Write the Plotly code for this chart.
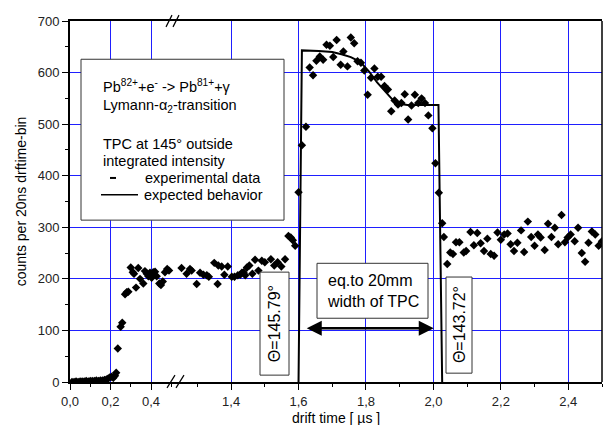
import plotly.graph_objects as go

# measured counts, left part of the broken time axis
t_left = [0.01, 0.02, 0.03, 0.04, 0.05, 0.06, 0.07, 0.08, 0.09, 0.10, 0.11, 0.12, 0.13,
          0.14, 0.15, 0.16, 0.17, 0.18, 0.189, 0.197, 0.206, 0.214, 0.222, 0.228, 0.236,
          0.25, 0.258, 0.272, 0.28, 0.288, 0.30, 0.31, 0.316, 0.326, 0.337, 0.346, 0.362,
          0.37, 0.379, 0.387, 0.395, 0.403, 0.411, 0.42, 0.428, 0.441, 0.449, 0.458,
          0.469, 0.48, 0.489]
n_left = [0, 0, 1, 0, 1, 1, 1, 2, 1, 2, 2, 2, 3,
          2, 3, 3, 4, 5, 7, 9, 10, 8, 12, 18, 65,
          107, 115, 170, 174, 175, 222, 213, 210, 183, 221, 200, 191,
          215, 210, 205, 212, 202, 213, 214, 205, 191, 188, 195,
          213, 219, 216]

# measured counts, right part
t_right = [1.253, 1.268, 1.278, 1.283, 1.298, 1.308, 1.318, 1.328, 1.334, 1.35, 1.36,
           1.362, 1.372, 1.38, 1.39, 1.402, 1.41, 1.42, 1.427, 1.432, 1.437, 1.442,
           1.447, 1.454, 1.463, 1.471, 1.481, 1.491, 1.50, 1.518, 1.528, 1.538, 1.549,
           1.56, 1.57, 1.577, 1.583, 1.59,
           1.60, 1.61, 1.622, 1.633, 1.643, 1.653, 1.663, 1.673, 1.683, 1.693, 1.703,
           1.713, 1.725, 1.733, 1.745, 1.755, 1.765, 1.775, 1.785, 1.795, 1.805, 1.815,
           1.825, 1.835, 1.845, 1.855, 1.865, 1.875, 1.885, 1.895, 1.905, 1.915, 1.925,
           1.935, 1.945, 1.955, 1.965, 1.975, 1.985, 1.997, 2.006, 2.016, 2.026,
           2.031, 2.041, 2.05, 2.058, 2.067, 2.077, 2.09, 2.097, 2.11, 2.12, 2.13, 2.14,
           2.15, 2.16, 2.17, 2.18, 2.19, 2.20, 2.21, 2.22, 2.229, 2.239, 2.249, 2.26,
           2.269, 2.28, 2.29, 2.30, 2.31, 2.318, 2.33, 2.34, 2.35, 2.36, 2.37, 2.38,
           2.39, 2.398, 2.407, 2.419, 2.429, 2.44, 2.45, 2.46, 2.47, 2.48, 2.49, 2.5]
n_right = [221, 210, 219, 216, 190, 212, 208, 207, 204, 231, 190,
           226, 224, 208, 224, 204, 204, 207, 208, 212, 213, 207,
           222, 226, 210, 237, 216, 235, 232, 238, 226, 232, 224,
           238, 283, 280, 275, 264,
           368, 459, 495, 610, 595, 623, 631, 625, 654, 652, 630,
           663, 615, 641, 612, 668, 657, 622, 619, 604, 557, 590,
           608, 592, 592, 574, 567, 525, 546, 538, 541, 558, 509,
           536, 557, 541, 550, 541, 517, 492, 424, 367, 308,
           281, 229, 251, 248, 271, 271, 251, 254, 291, 265, 289, 269,
           254, 278, 248, 245, 290, 276, 286, 288, 267, 254, 270, 294,
           252, 311, 281, 264, 286, 280, 256, 307, 281, 299, 267, 324,
           271, 280, 286, 273, 299, 250, 233, 270, 292, 286, 264, 273]

# expected behavior
t_fit = [1.600, 1.610, 1.660, 1.700, 1.730, 1.755, 1.783, 1.808, 1.833, 1.858, 1.878,
         1.893, 1.923, 2.015, 2.026]
n_fit = [0, 643, 642, 640, 635, 630, 621, 603, 581, 562, 548,
         540, 537, 537, 0]

ticks_left = [0.0, 0.2, 0.4]
minor_left = [0.1, 0.3, 0.5]
ticks_right = [1.4, 1.6, 1.8, 2.0, 2.2, 2.4]
minor_right = [1.3, 1.5, 1.7, 1.9, 2.1, 2.3, 2.5]

FONT = "Liberation Sans, Arial, sans-serif"
GRID = "#1f1fff"
# the page body adds 8px around the figure, so the figure is 8px smaller
# and the plot box sits at page pixels x 70..602, y 14..382
W, H = 604, 417
L, R, T, B = 62, 10, 6, 43
X0, X1, Y0, Y1 = 70, 602, 14, 382
SPLIT = (175 - X0) / (X1 - X0)


def px(x):
    return (x - X0) / (X1 - X0)


def py(y):
    return (Y1 - y) / (Y1 - Y0)


fig = go.Figure()
mk = dict(symbol="diamond", size=6.5, color="black")
fig.add_trace(go.Scatter(x=t_left, y=n_left, mode="markers", marker=mk,
                         xaxis="x", yaxis="y", showlegend=False))
fig.add_trace(go.Scatter(x=t_right, y=n_right, mode="markers", marker=mk,
                         xaxis="x2", yaxis="y", showlegend=False))
fig.add_trace(go.Scatter(x=t_fit, y=n_fit, mode="lines", line=dict(color="black", width=2),
                         xaxis="x2", yaxis="y", showlegend=False))

common_x = dict(showgrid=True, gridcolor=GRID, gridwidth=1, zeroline=False,
                showline=True, linecolor="black", linewidth=2, mirror=True,
                ticks="outside", ticklen=6, tickwidth=1, tickcolor="black",
                tickformat=".1f", tickfont=dict(size=13, color="#222"))
fig.update_layout(
    xaxis=dict(domain=[0, SPLIT], range=[0, 0.5185], tickvals=ticks_left,
               minor=dict(tickvals=minor_left, ticks="outside", ticklen=3, showgrid=False),
               anchor="y", **common_x),
    xaxis2=dict(domain=[SPLIT, 1], range=[1.2336, 2.5], tickvals=ticks_right,
                minor=dict(tickvals=minor_right, ticks="outside", ticklen=3, showgrid=False),
                anchor="y", **common_x),
    yaxis=dict(range=[0, 700], dtick=100, showgrid=True, gridcolor=GRID, gridwidth=1,
               zeroline=False, showline=True, linecolor="black", linewidth=2,
               ticks="outside", ticklen=6, tickcolor="black",
               minor=dict(dtick=50, ticks="outside", ticklen=3, showgrid=False),
               tickfont=dict(size=13, color="#222"),
               title=dict(text="counts per 20ns drftime-bin", font=dict(size=14), standoff=8)),
    separators=",.",
    width=W, height=H,
    margin=dict(l=L, r=R, t=T, b=B),
    paper_bgcolor="white", plot_bgcolor="white",
    font=dict(family=FONT, color="black"),
)

shapes = []
# right frame line
shapes.append(dict(type="line", xref="paper", yref="paper", x0=1, x1=1, y0=0, y1=1,
                   line=dict(color="black", width=1.5)))
# axis break marks
for a, b in [(166, 172), (173, 179)]:
    shapes.append(dict(type="line", xref="paper", yref="paper", x0=px(a), x1=px(b),
                       y0=py(20), y1=py(8), line=dict(color="black", width=1.2)))
for a, b in [(167, 175), (176, 184)]:
    shapes.append(dict(type="line", xref="paper", yref="paper", x0=px(a), x1=px(b),
                       y0=py(388), y1=py(375), line=dict(color="black", width=1.2)))
# text boxes
for x0, x1, y0, y1 in [(81, 284, 53, 217), (260, 289, 270, 375),
                       (446, 472, 275, 373), (317, 428, 261, 317)]:
    shapes.append(dict(type="rect", xref="paper", yref="paper", layer="above",
                       x0=px(x0), x1=px(x1), y0=py(y1), y1=py(y0),
                       fillcolor="white", line=dict(color="#333", width=1)))
# legend samples
shapes.append(dict(type="line", xref="paper", yref="paper", layer="above",
                   x0=px(110), x1=px(116), y0=py(174), y1=py(174),
                   line=dict(color="black", width=2)))
shapes.append(dict(type="line", xref="paper", yref="paper", layer="above",
                   x0=px(101), x1=px(138), y0=py(191), y1=py(191),
                   line=dict(color="black", width=1.5)))
fig.update_layout(shapes=shapes)

legend_lines = [
    ("Pb<sup>82+</sup>+e<sup>-</sup> -> Pb<sup>81+</sup>+γ", 101, 80),
    ("Lymann-α<sub>2</sub>-transition", 101, 101),
    ("TPC at 145° outside", 101, 139),
    ("integrated intensity", 101, 157),
    ("experimental data", 143, 174),
    ("expected behavior", 142, 191),
]
for txt, x, y in legend_lines:
    fig.add_annotation(text=txt, xref="paper", yref="paper", x=px(x), y=py(y),
                       xanchor="left", yanchor="middle", showarrow=False,
                       font=dict(size=14.5, color="black"))

fig.add_annotation(text="Θ=145.79°", xref="paper", yref="paper", x=px(274.5), y=py(322.5),
                   xanchor="center", yanchor="middle",
                   textangle=-90, showarrow=False, font=dict(size=16))
fig.add_annotation(text="Θ=143.72°", xref="paper", yref="paper", x=px(459), y=py(324),
                   xanchor="center", yanchor="middle",
                   textangle=-90, showarrow=False, font=dict(size=16))
fig.add_annotation(text="eq.to 20mm<br>width of TPC", xref="paper", yref="paper",
                   x=px(372.5), y=py(289), xanchor="center", yanchor="middle",
                   showarrow=False, align="left", font=dict(size=16))
fig.add_annotation(text="drift time [ µs ]", xref="paper", yref="paper",
                   x=0.5, y=py(419), xanchor="center", yanchor="middle",
                   showarrow=False, font=dict(size=14))

# width of the TPC, double arrow
fig.add_annotation(x=2.001, y=104, ax=1.62, ay=104, xref="x2", yref="y",
                   axref="x2", ayref="y", text="", showarrow=True,
                   arrowhead=2, arrowside="end+start", arrowsize=1.2, arrowwidth=2.5,
                   arrowcolor="black")

fig.write_html("out.html")
